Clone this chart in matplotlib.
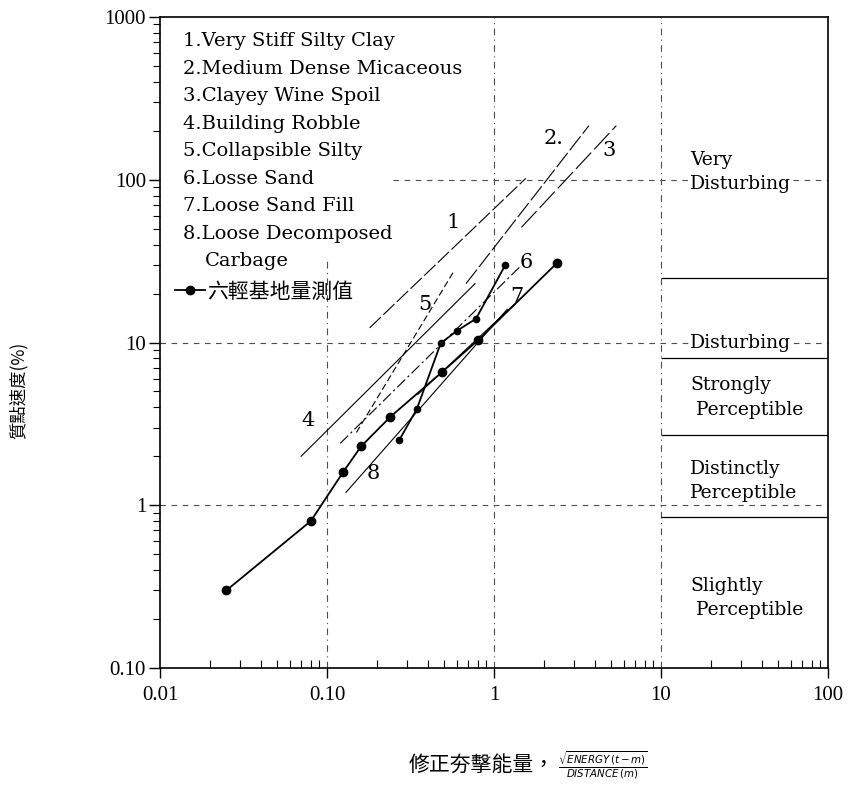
import matplotlib
matplotlib.use("Agg")
import matplotlib.pyplot as plt
from matplotlib.font_manager import FontProperties

# measured data (two runs, same legend entry)
meas_a_x = [0.025, 0.08, 0.125, 0.16, 0.24, 0.49, 0.8, 2.4]
meas_a_y = [0.3, 0.8, 1.6, 2.3, 3.5, 6.6, 10.3, 31]
meas_b_x = [0.27, 0.345, 0.48, 0.6, 0.78, 1.17]
meas_b_y = [2.5, 3.9, 9.9, 11.8, 14, 30]

# reference soil lines: (x0, x1), (y0, y1)
soil_names = [
    "1.Very Stiff Silty Clay",
    "2.Medium Dense Micaceous",
    "3.Clayey Wine Spoil",
    "4.Building Robble",
    "5.Collapsible Silty",
    "6.Losse Sand",
    "7.Loose Sand Fill",
    "8.Loose Decomposed",
]
soil_x = [(0.18, 1.55), (0.68, 3.7), (1.46, 5.4), (0.07, 0.77),
          (0.15, 0.57), (0.12, 1.42), (0.35, 1.35), (0.13, 1.2)]
soil_y = [(12.3, 102), (23, 215), (51, 215), (2.0, 23),
          (2.8, 27), (2.4, 29), (4.8, 17.5), (1.2, 16)]
soil_label_x = [0.57, 2.28, 4.9, 0.077, 0.387, 1.57, 1.37, 0.188]
soil_label_y = [55, 180, 152, 3.3, 17, 31, 19.3, 1.56]
soil_label_txt = ["1", "2.", "3", "4", "5", "6", "7", "8"]

# perception zones on the right
zone_bounds = [25, 8, 2.7, 0.85]
zone_names = ["Very\nDisturbing", "Disturbing", "Strongly\n Perceptible",
              "Distinctly\nPerceptible", "Slightly\n Perceptible"]
zone_text_y = [112, 10, 4.6, 1.41, 0.27]

serif = "DejaVu Serif"
cjk = FontProperties(family="Noto Sans CJK TC", size=12.5)

fig = plt.figure(figsize=(8.48, 7.96), dpi=100)
ax = fig.add_axes([160 / 848, 1 - 668 / 796, 668 / 848, 651 / 796])
ax.set_xscale("log")
ax.set_yscale("log")
ax.set_xlim(0.01, 100)
ax.set_ylim(0.1, 1000)

# grid lines drawn by hand so they can stop behind the legend
gk = dict(color="0.3", linewidth=0.8, zorder=1)
ax.vlines(0.1, 0.1, 32, linestyles=(0, (6, 4, 1, 4)), **gk)
ax.vlines([1, 10], 0.1, 1000, linestyles=(0, (6, 4, 1, 4)), **gk)
ax.hlines(100, 0.25, 100, linestyles=(0, (5, 5)), **gk)
ax.hlines([10, 1], 0.01, 100, linestyles=(0, (5, 5)), **gk)

# zone boundaries
ax.hlines(zone_bounds, 10, 100, color="black", linewidth=0.9, zorder=2)
for name, yy in zip(zone_names, zone_text_y):
    ax.text(15, yy, name, fontsize=13.5, family=serif, va="center", ha="left",
            linespacing=1.45, zorder=3,
            bbox=dict(facecolor="white", edgecolor="none", pad=1))

# soil reference lines
styles = [(0, (14, 3)), (0, (16, 3)), (0, (20, 4)), "-",
          (0, (6, 3)), (0, (10, 3, 2, 3)), "-", "-"]
for xs, ys, ls in zip(soil_x, soil_y, styles):
    ax.plot(xs, ys, color="black", linewidth=0.8, linestyle=ls, zorder=3)
for tx, ty, t in zip(soil_label_x, soil_label_y, soil_label_txt):
    ax.text(tx, ty, t, fontsize=15, family=serif, ha="center", va="center", zorder=4)

# measured values
line_a, = ax.plot(meas_a_x, meas_a_y, color="black", linewidth=1.3, marker="o",
                  markersize=6, zorder=5)
ax.plot(meas_b_x, meas_b_y, color="black", linewidth=1.3, marker="o",
        markersize=4.5, zorder=5)

# legend text block
y0 = 0.963
step = 0.0423
for i, name in enumerate(soil_names):
    ax.text(0.034, y0 - i * step, name, transform=ax.transAxes, fontsize=14,
            family=serif, va="center", ha="left")
ax.text(0.067, y0 - 8 * step, "Carbage", transform=ax.transAxes, fontsize=14,
        family=serif, va="center", ha="left")
ax.legend([line_a], ["六輕基地量測值"], loc="center left",
          bbox_to_anchor=(-0.005, y0 - 9.1 * step), frameon=False,
          handlelength=1.4, handletextpad=0.1,
          prop=FontProperties(family="Noto Sans CJK TC", size=15))

# ticks
ax.set_xticks([0.01, 0.1, 1, 10, 100])
ax.set_xticklabels(["0.01", "0.10", "1", "10", "100"])
ax.set_yticks([0.1, 1, 10, 100, 1000])
ax.set_yticklabels(["0.10", "1", "10", "100", "1000"])
for lab in ax.get_xticklabels() + ax.get_yticklabels():
    lab.set_family("Liberation Serif")
    lab.set_fontsize(15)
ax.tick_params(axis="x", which="major", direction="out", length=7, width=1, pad=6)
ax.tick_params(axis="x", which="minor", direction="in", length=6, width=0.8)
ax.tick_params(axis="y", which="major", direction="out", length=8, width=1, pad=2)
ax.tick_params(axis="y", which="minor", direction="out", length=5, width=0.8)
for s in ax.spines.values():
    s.set_linewidth(1.2)

# axis titles
fig.text(18 / 848, 1 - 390 / 796, "質點速度(%)", rotation=90, ha="center",
         va="center", fontproperties=cjk)
fig.text(555 / 848, 1 - 765 / 796, "修正夯擊能量，", ha="right", va="center",
         fontproperties=FontProperties(family="Noto Sans CJK TC", size=15))
fig.text(558 / 848, 1 - 765 / 796,
         r"$\frac{\sqrt{ENERGY\,(t-m)}}{DISTANCE\,(m)}$", ha="left",
         va="center", fontsize=10.5)

fig.savefig("out.png", dpi=100)
